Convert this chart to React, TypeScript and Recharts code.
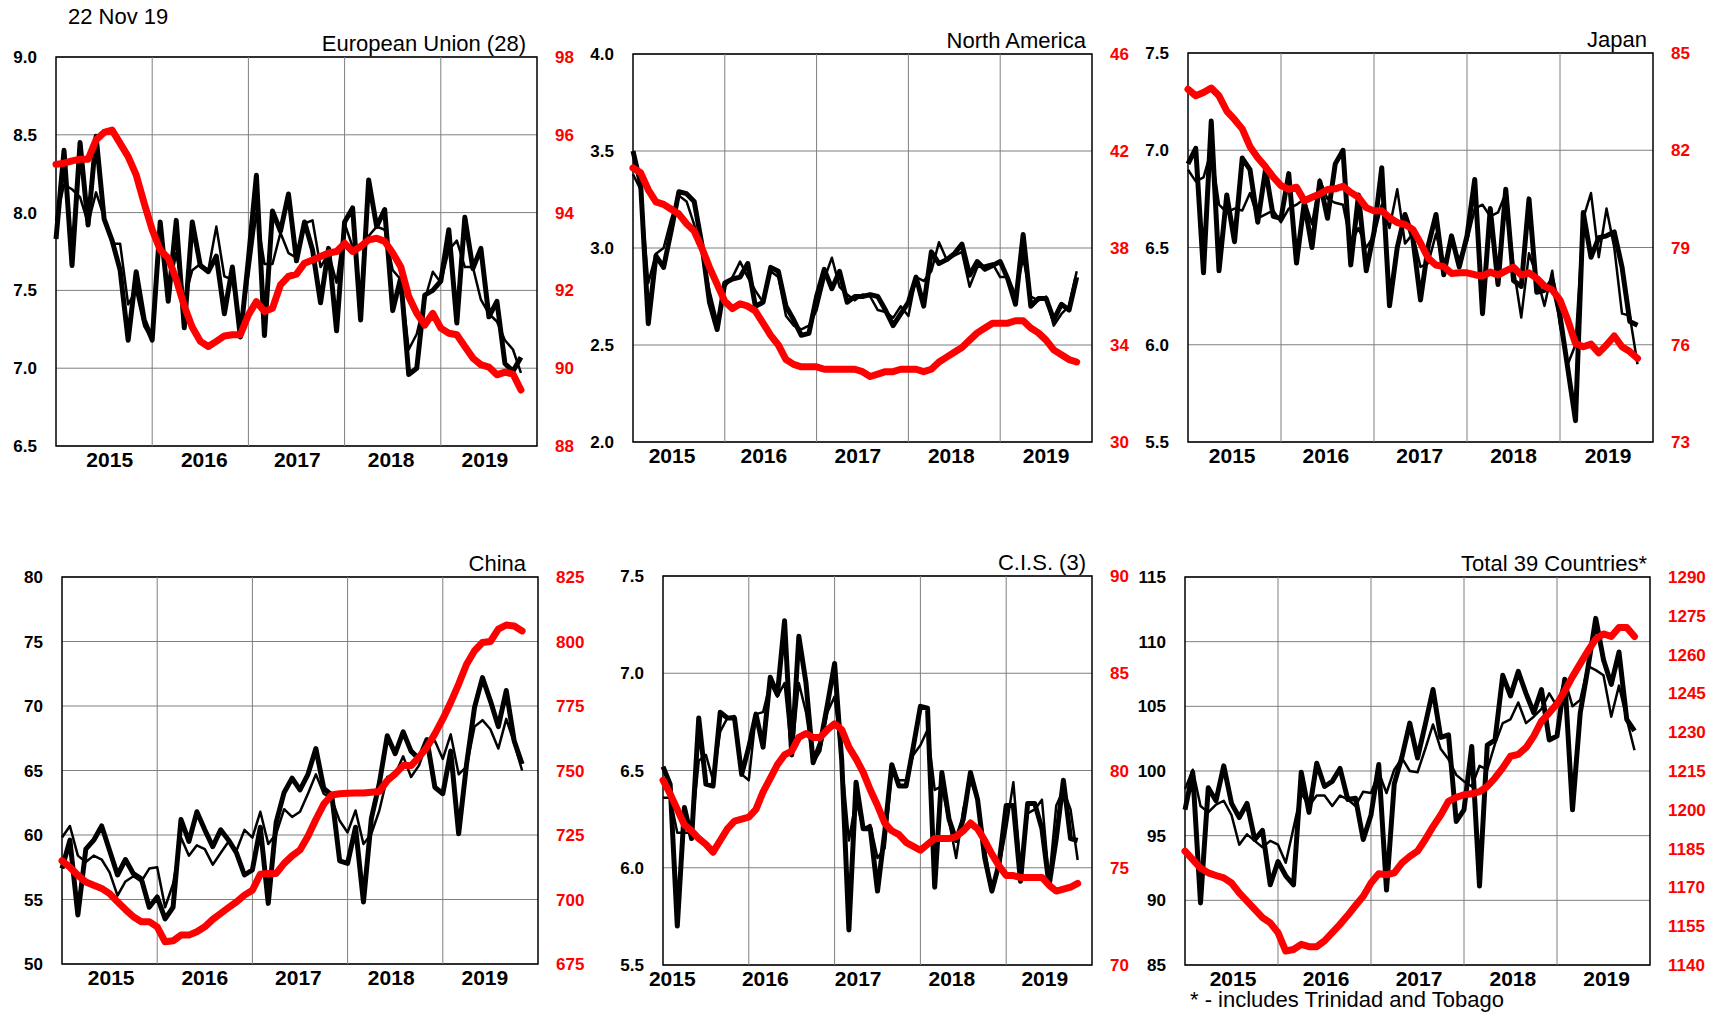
import { LineChart, Line, XAxis, YAxis, CartesianGrid, ReferenceArea, ReferenceLine } from "recharts";

const months = [
  "Dec 14",
  "Jan 15", "Feb 15", "Mar 15", "Apr 15", "May 15", "Jun 15", "Jul 15", "Aug 15", "Sep 15", "Oct 15", "Nov 15", "Dec 15",
  "Jan 16", "Feb 16", "Mar 16", "Apr 16", "May 16", "Jun 16", "Jul 16", "Aug 16", "Sep 16", "Oct 16", "Nov 16", "Dec 16",
  "Jan 17", "Feb 17", "Mar 17", "Apr 17", "May 17", "Jun 17", "Jul 17", "Aug 17", "Sep 17", "Oct 17", "Nov 17", "Dec 17",
  "Jan 18", "Feb 18", "Mar 18", "Apr 18", "May 18", "Jun 18", "Jul 18", "Aug 18", "Sep 18", "Oct 18", "Nov 18", "Dec 18",
  "Jan 19", "Feb 19", "Mar 19", "Apr 19", "May 19", "Jun 19", "Jul 19", "Aug 19", "Sep 19", "Oct 19",
];
const years = ["2015", "2016", "2017", "2018", "2019"];

// European Union (28)
const euThick = [7.83, 8.40, 7.66, 8.45, 7.92, 8.49, 7.96, 7.82, 7.63, 7.18, 7.62, 7.31, 7.18, 7.94, 7.43, 7.95, 7.26, 7.94, 7.66, 7.62, 7.72, 7.35, 7.65, 7.20, 7.70, 8.24, 7.21, 8.01, 7.88, 8.12, 7.69, 7.94, 7.76, 7.42, 7.77, 7.24, 7.94, 8.03, 7.31, 8.21, 7.91, 8.02, 7.37, 7.58, 6.96, 7.00, 7.47, 7.50, 7.56, 7.89, 7.29, 7.97, 7.64, 7.77, 7.33, 7.43, 7.03, 6.98, 7.07];
const euThin = [7.95, 8.18, 8.15, 8.10, 7.93, 8.13, 7.97, 7.80, 7.80, 7.41, 7.50, 7.27, 7.18, 7.87, 7.48, 7.74, 7.44, 7.63, 7.67, 7.63, 7.91, 7.59, 7.57, 7.25, 7.59, 8.00, 7.67, 7.67, 7.87, 7.74, 7.71, 7.93, 7.95, 7.65, 7.74, 7.55, 7.93, 7.78, 7.78, 7.85, 7.91, 7.89, 7.63, 7.57, 7.12, 7.22, 7.44, 7.62, 7.55, 7.76, 7.82, 7.65, 7.65, 7.44, 7.35, 7.30, 7.18, 7.12, 6.97];
const euRed = [95.24, 95.27, 95.33, 95.37, 95.37, 95.87, 96.06, 96.12, 95.78, 95.44, 94.97, 94.24, 93.56, 93.04, 92.83, 92.28, 91.6, 91.05, 90.69, 90.56, 90.69, 90.83, 90.86, 90.86, 91.37, 91.71, 91.46, 91.54, 92.14, 92.36, 92.42, 92.7, 92.78, 92.87, 92.96, 93.0, 93.21, 93.0, 93.13, 93.3, 93.34, 93.26, 92.96, 92.61, 91.84, 91.41, 91.11, 91.41, 91.03, 90.9, 90.86, 90.56, 90.26, 90.09, 90.03, 89.83, 89.9, 89.85, 89.44];
const euLeftTicks = [6.5, 7.0, 7.5, 8.0, 8.5, 9.0];
const euRightTicks = [88, 90, 92, 94, 96, 98];

// North America
const naThick = [3.50, 3.33, 2.61, 2.96, 2.90, 3.09, 3.29, 3.28, 3.24, 3.02, 2.72, 2.58, 2.82, 2.84, 2.85, 2.92, 2.70, 2.72, 2.90, 2.88, 2.70, 2.63, 2.55, 2.56, 2.75, 2.89, 2.79, 2.88, 2.72, 2.75, 2.75, 2.76, 2.75, 2.68, 2.60, 2.66, 2.72, 2.85, 2.70, 2.98, 2.92, 2.94, 2.97, 3.02, 2.86, 2.93, 2.89, 2.91, 2.93, 2.84, 2.71, 3.07, 2.70, 2.74, 2.74, 2.63, 2.71, 2.68, 2.85];
const naThin = [3.38, 3.30, 2.82, 2.97, 3.00, 3.15, 3.27, 3.24, 3.12, 2.98, 2.78, 2.62, 2.80, 2.85, 2.93, 2.85, 2.78, 2.72, 2.88, 2.85, 2.65, 2.60, 2.58, 2.60, 2.68, 2.84, 2.95, 2.80, 2.76, 2.73, 2.76, 2.75, 2.68, 2.67, 2.64, 2.70, 2.65, 2.85, 2.83, 2.88, 3.03, 2.94, 2.96, 2.98, 2.80, 2.90, 2.91, 2.92, 2.85, 2.85, 2.76, 2.95, 2.75, 2.73, 2.75, 2.60, 2.66, 2.70, 2.88];
const naRed = [41.3, 41.1, 40.4, 39.9, 39.8, 39.6, 39.4, 39.0, 38.7, 38.0, 37.2, 36.5, 35.8, 35.5, 35.7, 35.6, 35.4, 34.9, 34.4, 34.0, 33.4, 33.2, 33.1, 33.1, 33.1, 33.0, 33.0, 33.0, 33.0, 33.0, 32.9, 32.7, 32.8, 32.9, 32.9, 33.0, 33.0, 33.0, 32.9, 33.0, 33.3, 33.5, 33.7, 33.9, 34.2, 34.5, 34.7, 34.9, 34.9, 34.9, 35.0, 35.0, 34.7, 34.5, 34.2, 33.8, 33.6, 33.4, 33.3];
const naLeftTicks = [2.0, 2.5, 3.0, 3.5, 4.0];
const naRightTicks = [30, 34, 38, 42, 46];

// Japan
const jpThick = [6.93, 7.01, 6.37, 7.15, 6.38, 6.77, 6.53, 6.96, 6.90, 6.63, 6.90, 6.66, 6.65, 6.88, 6.42, 6.73, 6.50, 6.84, 6.65, 6.93, 7.00, 6.41, 6.77, 6.38, 6.58, 6.91, 6.20, 6.50, 6.67, 6.55, 6.23, 6.51, 6.67, 6.36, 6.56, 6.40, 6.56, 6.85, 6.16, 6.70, 6.31, 6.80, 6.33, 6.30, 6.75, 6.27, 6.28, 6.33, 6.15, 5.88, 5.61, 6.68, 6.45, 6.55, 6.56, 6.58, 6.40, 6.12, 6.10];
const jpThin = [6.90, 6.84, 6.86, 7.00, 6.72, 6.68, 6.70, 6.69, 6.78, 6.65, 6.67, 6.69, 6.63, 6.70, 6.72, 6.75, 6.62, 6.85, 6.75, 6.73, 6.72, 6.52, 6.60, 6.50, 6.56, 6.72, 6.60, 6.80, 6.52, 6.57, 6.40, 6.42, 6.57, 6.42, 6.52, 6.44, 6.53, 6.70, 6.72, 6.66, 6.68, 6.78, 6.40, 6.14, 6.47, 6.35, 6.20, 6.38, 6.10, 5.90, 6.00, 6.65, 6.78, 6.45, 6.70, 6.50, 6.16, 6.15, 5.90];
const jpRed = [83.88, 83.68, 83.78, 83.92, 83.68, 83.21, 82.95, 82.66, 82.11, 81.77, 81.49, 81.17, 80.91, 80.79, 80.86, 80.44, 80.55, 80.65, 80.79, 80.81, 80.89, 80.70, 80.55, 80.23, 80.13, 80.13, 79.92, 79.77, 79.71, 79.56, 79.14, 78.67, 78.46, 78.41, 78.20, 78.22, 78.22, 78.16, 78.12, 78.24, 78.15, 78.28, 78.39, 78.15, 78.22, 78.05, 77.81, 77.69, 77.38, 76.76, 76.04, 75.94, 76.02, 75.75, 75.99, 76.27, 75.94, 75.79, 75.58];
const jpLeftTicks = [5.5, 6.0, 6.5, 7.0, 7.5];
const jpRightTicks = [73, 76, 79, 82, 85];

// China
const cnThick = [57.4, 59.6, 53.8, 58.9, 59.6, 60.7, 58.8, 56.9, 58.1, 57.0, 56.6, 54.4, 55.2, 53.5, 54.4, 61.2, 59.5, 61.8, 60.4, 59.1, 60.4, 59.6, 58.6, 56.9, 57.3, 60.6, 54.7, 61.0, 63.3, 64.4, 63.5, 64.7, 66.7, 63.6, 63.1, 58.0, 57.8, 60.6, 54.8, 61.3, 64.0, 67.7, 66.3, 68.0, 66.5, 65.9, 67.4, 63.7, 63.2, 66.5, 60.1, 65.5, 69.9, 72.2, 70.4, 68.4, 71.2, 67.3, 65.5];
const cnThin = [59.8, 60.7, 58.4, 57.9, 58.4, 58.1, 57.1, 55.3, 56.4, 56.8, 56.4, 57.4, 57.5, 54.4, 56.2, 59.8, 58.4, 59.2, 58.9, 57.7, 58.6, 59.5, 58.8, 60.4, 59.8, 61.8, 59.3, 60.1, 62.0, 61.4, 61.8, 63.2, 64.7, 63.2, 62.8, 61.1, 60.2, 61.9, 59.3, 60.1, 61.9, 64.5, 64.7, 66.1, 64.5, 65.4, 67.1, 67.3, 65.9, 67.8, 64.7, 65.3, 68.4, 68.9, 68.2, 66.7, 69.0, 67.1, 65.0];
const cnRed = [715, 712.5, 709.4, 706.8, 705.5, 704.3, 702.3, 699.1, 696.1, 693.3, 691.4, 691.4, 689.4, 683.6, 684.0, 686.2, 686.2, 687.5, 689.4, 692.3, 694.6, 696.9, 699.1, 701.7, 703.6, 709.8, 710.1, 710.1, 714.0, 716.9, 719.2, 724.5, 731, 737, 740.5, 741.0, 741.2, 741.3, 741.3, 741.6, 741.9, 746.1, 748.7, 751.9, 751.9, 755.2, 759.0, 764.2, 770, 776.4, 783.5, 791.2, 796.4, 799.6, 800, 804.8, 806.4, 806, 804.1];
const cnLeftTicks = [50, 55, 60, 65, 70, 75, 80];
const cnRightTicks = [675, 700, 725, 750, 775, 800, 825];

// C.I.S. (3)
const cisThick = [6.52, 6.43, 5.70, 6.31, 6.15, 6.77, 6.43, 6.42, 6.80, 6.77, 6.77, 6.48, 6.62, 6.79, 6.62, 6.98, 6.89, 7.27, 6.58, 7.19, 6.95, 6.54, 6.64, 6.84, 7.05, 6.55, 5.68, 6.44, 6.20, 6.20, 5.88, 6.18, 6.53, 6.42, 6.42, 6.62, 6.83, 6.82, 5.90, 6.49, 6.25, 6.14, 6.25, 6.49, 6.35, 6.05, 5.88, 6.02, 6.32, 6.32, 5.93, 6.33, 6.33, 6.20, 5.91, 6.15, 6.45, 6.15, 6.14];
const cisThin = [6.36, 6.36, 6.18, 6.18, 6.18, 6.55, 6.58, 6.45, 6.70, 6.77, 6.78, 6.48, 6.45, 6.79, 6.80, 6.95, 6.88, 6.95, 6.58, 6.95, 6.80, 6.54, 6.60, 6.80, 6.88, 6.55, 6.14, 6.35, 6.20, 6.22, 6.05, 6.10, 6.50, 6.45, 6.45, 6.58, 6.63, 6.71, 6.40, 6.42, 6.24, 6.05, 6.30, 6.45, 6.35, 6.10, 5.88, 6.00, 6.20, 6.44, 6.00, 6.28, 6.30, 6.35, 5.93, 6.32, 6.40, 6.30, 6.04];
const cisRed = [79.5, 78.8, 78.0, 77.2, 76.9, 76.5, 76.2, 75.8, 76.4, 77.0, 77.4, 77.5, 77.6, 78.0, 78.9, 79.6, 80.3, 80.8, 81.0, 81.7, 81.9, 81.7, 81.7, 82.1, 82.4, 82.1, 81.2, 80.6, 79.9, 79.0, 78.2, 77.3, 76.9, 76.7, 76.3, 76.1, 75.9, 76.2, 76.5, 76.5, 76.5, 76.6, 76.9, 77.3, 77.0, 76.4, 75.7, 75.1, 74.6, 74.6, 74.5, 74.5, 74.5, 74.5, 74.1, 73.8, 73.9, 74.0, 74.2];
const cisLeftTicks = [5.5, 6.0, 6.5, 7.0, 7.5];
const cisRightTicks = [70, 75, 80, 85, 90];

// Total 39 Countries
const totThick = [97.0, 99.9, 89.8, 98.7, 97.7, 100.4, 97.5, 96.4, 97.5, 94.7, 95.4, 91.2, 93.0, 91.9, 91.2, 99.9, 96.8, 100.6, 98.8, 99.2, 100.2, 97.8, 97.9, 94.7, 96.6, 100.5, 90.8, 99.0, 101.1, 103.7, 101.0, 103.6, 106.3, 102.6, 102.8, 96.1, 97.0, 101.9, 91.1, 102.0, 102.4, 107.4, 105.8, 107.7, 106.0, 104.5, 106.3, 102.4, 102.7, 107.1, 97.0, 104.5, 108.0, 111.8, 108.6, 106.7, 109.2, 104.0, 103.1];
const totThin = [98.6, 100.1, 97.3, 96.8, 97.4, 97.7, 96.6, 94.3, 95.1, 94.6, 94.1, 94.6, 94.3, 92.9, 95.6, 98.3, 97.3, 98.1, 98.1, 97.3, 98.1, 97.8, 97.3, 98.4, 98.3, 99.9, 98.3, 100.1, 101.0, 100.0, 99.9, 101.7, 103.6, 101.7, 100.9, 99.7, 99.2, 98.8, 100.4, 100.1, 102.1, 103.7, 104.0, 105.3, 103.7, 104.2, 104.8, 106.0, 105.0, 107.1, 105.0, 105.5, 108.1, 107.8, 107.4, 104.2, 106.6, 104.0, 101.6];
const totRed = [1184, 1180.7, 1177.5, 1175.6, 1174.6, 1173.7, 1171.7, 1167.9, 1164.7, 1161.5, 1158.3, 1156.3, 1152.5, 1145.4, 1146.0, 1148.0, 1147.1, 1147.1, 1149.3, 1152.5, 1155.7, 1159.2, 1163.0, 1166.6, 1171.7, 1175.3, 1174.9, 1175.6, 1179.5, 1182.0, 1184.0, 1188.5, 1193.5, 1198.0, 1203.3, 1204.8, 1205.8, 1206.2, 1207.0, 1209.0, 1212.3, 1216.2, 1220.7, 1221.4, 1224.0, 1228.5, 1234.3, 1237.5, 1241, 1246, 1251.5, 1256.5, 1261.5, 1266, 1268, 1267, 1270.5, 1270.5, 1267];
const totLeftTicks = [85, 90, 95, 100, 105, 110, 115];
const totRightTicks = [1140, 1155, 1170, 1185, 1200, 1215, 1230, 1245, 1260, 1275, 1290];

// year boundaries (gridlines), in months from the first point
const gridTicks = [12, 24, 36, 48];

const panels = [
  { title: "European Union (28)", thick: euThick, thin: euThin, red: euRed, lt: euLeftTicks, rt: euRightTicks, dec: 1, x: 56, y: 57, w: 481, h: 389, yr: [6.7, 18.5, 30.1, 41.8, 53.5], tOff: 11 },
  { title: "North America", thick: naThick, thin: naThin, red: naRed, lt: naLeftTicks, rt: naRightTicks, dec: 1, x: 633, y: 54, w: 459, h: 388, yr: [5.1, 17.1, 29.4, 41.6, 54.0], tOff: 6 },
  { title: "Japan", thick: jpThick, thin: jpThin, red: jpRed, lt: jpLeftTicks, rt: jpRightTicks, dec: 1, x: 1188, y: 53, w: 465, h: 389, yr: [5.7, 17.8, 29.9, 42.0, 54.2], tOff: 6 },
  { title: "China", thick: cnThick, thin: cnThin, red: cnRed, lt: cnLeftTicks, rt: cnRightTicks, dec: 0, x: 62, y: 577, w: 476, h: 387, yr: [6.2, 18.0, 29.8, 41.5, 53.3], tOff: 12 },
  { title: "C.I.S. (3)", thick: cisThick, thin: cisThin, red: cisRed, lt: cisLeftTicks, rt: cisRightTicks, dec: 1, x: 663, y: 576, w: 429, h: 389, yr: [1.3, 14.3, 27.3, 40.4, 53.4], tOff: 6 },
  { title: "Total 39 Countries*", thick: totThick, thin: totThin, red: totRed, lt: totLeftTicks, rt: totRightTicks, dec: 0, x: 1185, y: 577, w: 465, h: 388, yr: [6.2, 18.2, 30.2, 42.3, 54.4], tOff: 3 },
];

const numFont = { fontFamily: "'Liberation Sans', Arial, sans-serif", fontWeight: 700, fontSize: 17 };
const textFont = { fontFamily: "'Liberation Sans', Arial, sans-serif", fontSize: 22, lineHeight: "22px", color: "#000" };

function Panel({ p }: { p: (typeof panels)[number] }) {
  const rows = months.map((m, i) => ({ x: i, month: m, thick: p.thick[i], thin: p.thin[i], red: p.red[i] }));
  const lmin = p.lt[0];
  const lmax = p.lt[p.lt.length - 1];
  const rmin = p.rt[0];
  const rmax = p.rt[p.rt.length - 1];
  return (
    <>
      <div style={{ position: "absolute", left: p.x - 60, top: p.y - 10 }}>
        <LineChart width={p.w + 120} height={p.h + 50} data={rows} margin={{ top: 10, right: 0, bottom: 0, left: 0 }}>
          <XAxis xAxisId="g" dataKey="x" type="number" orientation="top" height={0} domain={[0, 60]} ticks={gridTicks}
            interval={0} tick={false} tickLine={false} axisLine={false} />
          <XAxis xAxisId="yr" dataKey="x" type="number" orientation="bottom" height={40} domain={[0, 60]} ticks={p.yr}
            interval={0} tickLine={false} axisLine={false} tickSize={0} tickMargin={6}
            tickFormatter={(v: number) => years[p.yr.indexOf(v)] ?? ""}
            tick={{ fontFamily: "'Liberation Sans', Arial, sans-serif", fontWeight: 700, fontSize: 21, fill: "#000" }} />
          <YAxis yAxisId="l" width={60} domain={[lmin, lmax]} ticks={p.lt} interval={0} allowDataOverflow
            tickLine={false} axisLine={false} tickSize={0} tickMargin={19}
            tickFormatter={(v: number) => v.toFixed(p.dec)} tick={{ ...numFont, fill: "#000" }} />
          <YAxis yAxisId="r" orientation="right" width={60} domain={[rmin, rmax]} ticks={p.rt} interval={0} allowDataOverflow
            tickLine={false} axisLine={false} tickSize={0} tickMargin={18}
            tick={{ ...numFont, fill: "#ff0000" }} />
          <CartesianGrid xAxisId="g" yAxisId="l" vertical={false} stroke="#7f7f7f" strokeWidth={1} />
          {gridTicks.map((t) => (
            <ReferenceLine key={t} xAxisId="g" yAxisId="l" x={t} stroke="#7f7f7f" strokeWidth={1} />
          ))}
          <Line xAxisId="g" yAxisId="l" dataKey="thin" type="linear" stroke="#000" strokeWidth={2.5} dot={false}
            strokeLinejoin="round" isAnimationActive={false} />
          <Line xAxisId="g" yAxisId="l" dataKey="thick" type="linear" stroke="#000" strokeWidth={5} dot={false}
            strokeLinejoin="round" isAnimationActive={false} />
          <Line xAxisId="g" yAxisId="r" dataKey="red" type="linear" stroke="#ff0000" strokeWidth={7} dot={false}
            strokeLinejoin="round" strokeLinecap="round" isAnimationActive={false} />
          <ReferenceArea xAxisId="g" yAxisId="l" x1={0} x2={60} y1={lmin} y2={lmax} fill="none" fillOpacity={0}
            stroke="#000" strokeWidth={1.5} ifOverflow="visible" />
        </LineChart>
      </div>
      <div style={{ ...textFont, position: "absolute", left: p.x + p.w - p.tOff - 400, width: 400, top: p.y - 24, textAlign: "right", whiteSpace: "nowrap" }}>
        {p.title}
      </div>
    </>
  );
}

export default function App() {
  return (
    <div style={{ position: "absolute", left: 0, top: 0, width: 1717, height: 1017, background: "#fff", overflow: "hidden" }}>
      <div style={{ ...textFont, position: "absolute", left: 68, top: 6 }}>22 Nov 19</div>
      {panels.map((p) => (
        <Panel key={p.title} p={p} />
      ))}
      <div style={{ ...textFont, position: "absolute", left: 1190, top: 989, whiteSpace: "nowrap" }}>
        * - includes Trinidad and Tobago
      </div>
    </div>
  );
}
